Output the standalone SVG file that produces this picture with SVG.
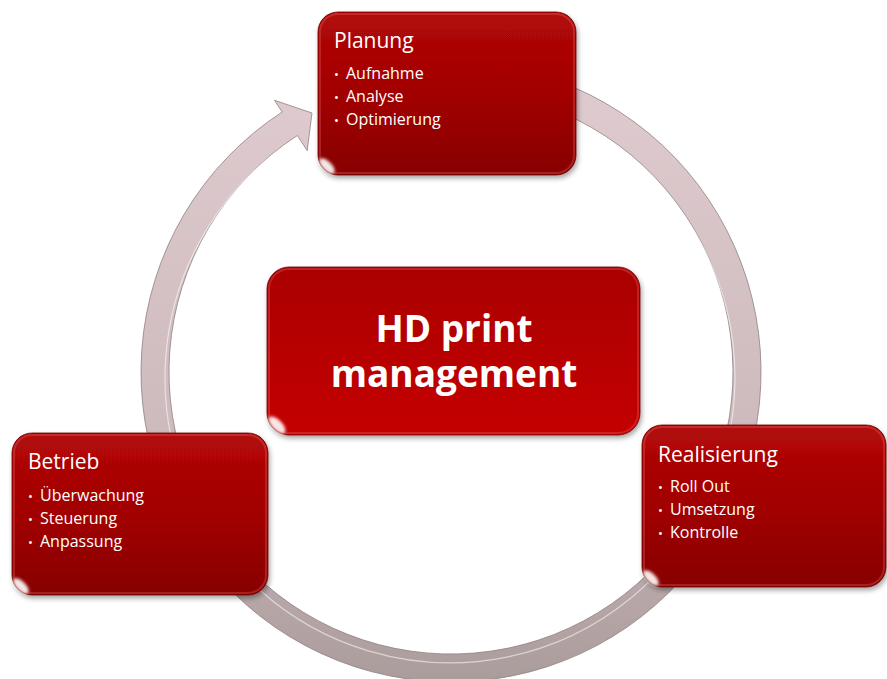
<svg xmlns="http://www.w3.org/2000/svg" width="887" height="679" viewBox="0 0 887 679">
<style>
.box{fill:url(#boxGrad);stroke:#6e0000;stroke-width:0.8;filter:url(#shadow)}
.cbox{fill:url(#centerGrad);stroke:#6e0000;stroke-width:0.8;filter:url(#shadow)}
.bevel{fill:none;stroke:#ff8080;stroke-opacity:0.25;stroke-width:2}
.hl{fill:none;stroke:#ff7a7a;stroke-opacity:0.75;stroke-width:3.5;stroke-linecap:round;filter:url(#blur1)}
.shine{fill:#ffffff;fill-opacity:0.9;filter:url(#blur2)}
.title{font-family:"Open Sans","DejaVu Sans",sans-serif;font-size:21px;fill:#ffffff}
.item{font-family:"Open Sans","DejaVu Sans",sans-serif;font-size:16px;fill:#ffffff}
.dot{font-family:"Open Sans","DejaVu Sans",sans-serif;font-size:13px;fill:#ffffff}
.big{font-family:"Open Sans","DejaVu Sans",sans-serif;font-size:37px;font-weight:bold;fill:#ffffff;text-anchor:middle}
</style>
<defs>
<linearGradient id="boxGrad" x1="0" y1="0" x2="0" y2="1">
<stop offset="0" stop-color="#b20808"/>
<stop offset="0.5" stop-color="#a20303"/>
<stop offset="1" stop-color="#870000"/>
</linearGradient>
<linearGradient id="centerGrad" x1="0" y1="0" x2="0" y2="1">
<stop offset="0" stop-color="#aa0000"/>
<stop offset="1" stop-color="#c40000"/>
</linearGradient>
<linearGradient id="ringGrad" x1="0" y1="0" x2="0" y2="1">
<stop offset="0" stop-color="#e0ccd0"/>
<stop offset="0.6" stop-color="#cdbabc"/>
<stop offset="1" stop-color="#ab9c9c"/>
</linearGradient>
<filter id="shadow" x="-10%" y="-10%" width="125%" height="130%">
<feDropShadow dx="1.5" dy="3" stdDeviation="2.5" flood-color="#000000" flood-opacity="0.35"/>
</filter>
<filter id="blur1"><feGaussianBlur stdDeviation="1"/></filter>
<filter id="blur2" x="-50%" y="-50%" width="200%" height="200%"><feGaussianBlur stdDeviation="1.6"/></filter>
</defs>
<rect width="887" height="679" fill="#ffffff"/>
<g id="connectors">
<path d="M 504.8 66.7 A 310 310 0 1 1 282.2 112 L 274.5 100.3 L 312 113 L 307.2 150.6 L 297.4 135.5 A 282 282 0 1 0 500 94.3 Z" fill="url(#ringGrad)" stroke="#8f8080" stroke-width="0.8"/>
<path d="M 500.3 97.3 A 285 285 0 1 1 296 138" fill="none" stroke="#ffffff" stroke-opacity="0.55" stroke-width="1.2"/>
</g>
<g id="node-planung">
<rect class="box" x="318" y="12" width="258" height="163" rx="20"/>
<rect class="bevel" x="320" y="14" width="254" height="159" rx="18"/>
<path class="hl" d="M 336 17 H 558"/>
<ellipse class="shine" cx="327" cy="166" rx="10" ry="4.5" transform="rotate(45 327 166)"/>
<text class="title" x="334" y="48">Planung</text>
<text class="dot" x="334" y="79">•</text><text class="item" x="346" y="79">Aufnahme</text>
<text class="dot" x="334" y="102">•</text><text class="item" x="346" y="102">Analyse</text>
<text class="dot" x="334" y="125">•</text><text class="item" x="346" y="125">Optimierung</text>
</g>
<g id="node-center">
<rect class="cbox" x="267" y="267" width="373" height="168" rx="22"/>
<rect class="bevel" x="269" y="269" width="369" height="164" rx="20"/>
<path class="hl" d="M 287 272 H 620"/>
<ellipse class="shine" cx="277" cy="425" rx="11" ry="5" transform="rotate(45 277 425)"/>
<text class="big" x="454" y="342">HD print</text>
<text class="big" x="454" y="387">management</text>
</g>
<g id="node-betrieb">
<rect class="box" x="12" y="433" width="256" height="162" rx="20"/>
<rect class="bevel" x="14" y="435" width="252" height="158" rx="18"/>
<path class="hl" d="M 30 438 H 250"/>
<ellipse class="shine" cx="21" cy="586" rx="10" ry="4.5" transform="rotate(45 21 586)"/>
<text class="title" x="28" y="469">Betrieb</text>
<text class="dot" x="28" y="501">•</text><text class="item" x="40" y="501">Überwachung</text>
<text class="dot" x="28" y="524">•</text><text class="item" x="40" y="524">Steuerung</text>
<text class="dot" x="28" y="547">•</text><text class="item" x="40" y="547">Anpassung</text>
</g>
<g id="node-realisierung">
<rect class="box" x="642" y="425" width="244" height="162" rx="20"/>
<rect class="bevel" x="644" y="427" width="240" height="158" rx="18"/>
<path class="hl" d="M 660 430 H 868"/>
<ellipse class="shine" cx="651" cy="578" rx="10" ry="4.5" transform="rotate(45 651 578)"/>
<text class="title" x="658" y="462">Realisierung</text>
<text class="dot" x="658" y="492">•</text><text class="item" x="670" y="492">Roll Out</text>
<text class="dot" x="658" y="515">•</text><text class="item" x="670" y="515">Umsetzung</text>
<text class="dot" x="658" y="538">•</text><text class="item" x="670" y="538">Kontrolle</text>
</g>
</svg>
